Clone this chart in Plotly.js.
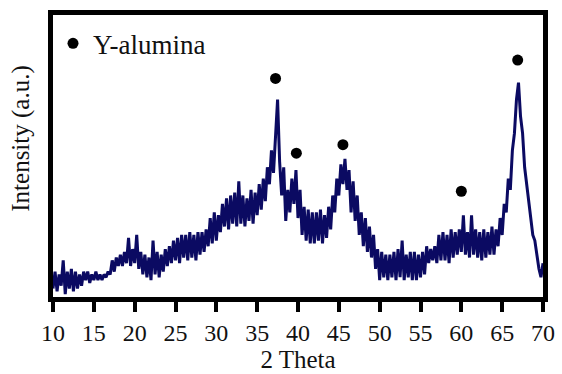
<!DOCTYPE html>
<html>
<head>
<meta charset="utf-8">
<script src="https://cdn.plot.ly/plotly-3.0.1.min.js"></script>
<style>html,body{margin:0;padding:0;background:#fff;}#chart{width:562px;height:374px;}</style>
</head>
<body>
<div id="chart"></div>
<script>
// 2-theta sampling (degrees)
const twoTheta = [
10,10.25,10.5,10.75,11,11.25,11.5,11.75,12,12.25,12.5,12.75,13,13.25,13.5,13.75,
14,14.25,14.5,14.75,15,15.25,15.5,15.75,16,16.25,16.5,16.75,17,17.25,17.5,17.75,
18,18.25,18.5,18.75,19,19.25,19.5,19.75,20,20.25,20.5,20.75,21,21.25,21.5,21.75,
22,22.25,22.5,22.75,23,23.25,23.5,23.75,24,24.25,24.5,24.75,25,25.25,25.5,25.75,
26,26.25,26.5,26.75,27,27.25,27.5,27.75,28,28.25,28.5,28.75,29,29.25,29.5,29.75,
30,30.25,30.5,30.75,31,31.25,31.5,31.75,32,32.25,32.5,32.75,33,33.25,33.5,33.75,
34,34.25,34.5,34.75,35,35.25,35.5,35.75,36,36.25,36.5,36.75,37,37.25,37.5,37.75,
38,38.25,38.5,38.75,39,39.25,39.5,39.75,40,40.25,40.5,40.75,41,41.25,41.5,41.75,
42,42.25,42.5,42.75,43,43.25,43.5,43.75,44,44.25,44.5,44.75,45,45.25,45.5,45.75,
46,46.25,46.5,46.75,47,47.25,47.5,47.75,48,48.25,48.5,48.75,49,49.25,49.5,49.75,
50,50.25,50.5,50.75,51,51.25,51.5,51.75,52,52.25,52.5,52.75,53,53.25,53.5,53.75,
54,54.25,54.5,54.75,55,55.25,55.5,55.75,56,56.25,56.5,56.75,57,57.25,57.5,57.75,
58,58.25,58.5,58.75,59,59.25,59.5,59.75,60,60.25,60.5,60.75,61,61.25,61.5,61.75,
62,62.25,62.5,62.75,63,63.25,63.5,63.75,64,64.25,64.5,64.75,65,65.25,65.5,65.75,
66,66.25,66.5,66.75,67,67.25,67.5,67.75,68,68.25,68.5,68.75,69,69.25,69.5,69.75,
70];

// measured intensity (a.u.)
const intensity = [
3,9,2,8, 4,13,1,9, 3,10,2,9, 3,8,4,9,
6,9,5,8, 6,9,6,8, 6,8,7,9, 8,13,9,14,
11,15,11,16, 12,21,11,17, 12,22,10,16, 8,15,7,14,
6,20,8,16, 7,15,9,17, 11,18,12,20, 13,21,12,22,
14,22,13,23, 14,22,13,23, 15,23,16,24, 18,28,19,30,
20,29,23,33, 25,35,24,36, 26,37,25,41, 26,36,25,35,
27,38,26,37, 29,40,31,42, 34,46,40,52, 44,58,70,48,
36,46,27,38, 30,42,33,45, 28,38,22,32, 20,31,19,30,
19,30,20,31, 19,29,21,32, 24,36,30,42, 36,47,40,49,
38,45,30,41, 27,36,22,30, 18,28,16,25, 14,22,10,17,
6,16,7,15, 6,15,7,16, 6,17,7,20, 6,15,7,16,
6,16,6,15, 7,16,8,18, 12,17,13,18, 12,22,13,23,
13,22,12,24, 14,23,15,24, 16,29,15,23, 14,29,15,24,
14,23,13,24, 14,23,15,25, 15,24,18,28, 22,33,30,42,
38,52,58,70, 76,64,58,46, 40,32,28,22, 20,14,10,7,
12];

// gamma-alumina reflections marked with dots
const peakTheta = [37.25, 39.8, 45.5, 60.0, 66.9];
const peakMark  = [77.5, 51, 54, 37.5, 84];

const seriesName = "Y-alumina";
const xTicks = [10,15,20,25,30,35,40,45,50,55,60,65,70];

const serif = "Liberation Serif, Times New Roman, serif";

const traces = [
  {
    x: twoTheta, y: intensity, type: "scatter", mode: "lines",
    line: {color: "#0b0a62", width: 3},
    showlegend: false, hoverinfo: "skip"
  },
  {
    x: peakTheta, y: peakMark, type: "scatter", mode: "markers",
    name: seriesName,
    marker: {color: "#000", size: 11, symbol: "circle"},
    showlegend: true
  }
];

const layout = {
  width: 562, height: 374,
  margin: {l: 53, r: 19, t: 15, b: 77},
  paper_bgcolor: "#fff", plot_bgcolor: "#fff",
  showlegend: true,
  legend: {
    x: 0.0, y: 0.985, xanchor: "left", yanchor: "top",
    bgcolor: "rgba(0,0,0,0)", borderwidth: 0,
    font: {family: serif, size: 27, color: "#111"},
    itemwidth: 30
  },
  xaxis: {
    range: [10, 70], tickvals: xTicks, ticktext: xTicks.map(String),
    ticks: "outside", ticklen: 10, tickwidth: 4, tickcolor: "#000",
    showline: true, linewidth: 5, linecolor: "#000", mirror: true,
    showgrid: false, zeroline: false,
    tickfont: {family: serif, size: 24, color: "#111"},
    title: {text: "2 Theta", font: {family: serif, size: 25, color: "#111"}, standoff: 7}
  },
  yaxis: {
    range: [0, 100],
    showticklabels: false, ticks: "",
    showline: true, linewidth: 5, linecolor: "#000", mirror: true,
    showgrid: false, zeroline: false
  },
  annotations: [{
    text: "Intensity (a.u.)", textangle: -90,
    xref: "paper", yref: "paper", x: -0.066, y: 0.56,
    xanchor: "center", yanchor: "middle", showarrow: false,
    font: {family: serif, size: 25, color: "#111"}
  }]
};

Plotly.newPlot("chart", traces, layout, {displayModeBar: false, staticPlot: true});
</script>
</body>
</html>
